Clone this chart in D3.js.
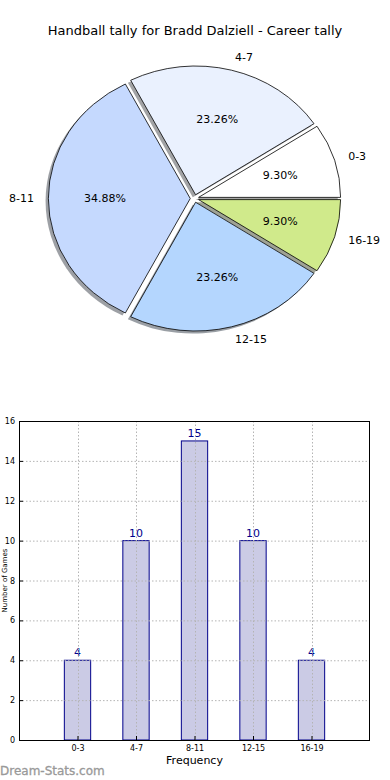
<!DOCTYPE html>
<html><head><meta charset="utf-8">
<script src="https://cdn.jsdelivr.net/npm/d3@7"></script>
<style>
body{margin:0;background:#fff;}
svg{display:block;font-family:"DejaVu Sans",sans-serif;}
</style></head>
<body>
<svg id="chart" width="390" height="780"></svg>
<script>
const categories = ["0-3", "4-7", "8-11", "12-15", "16-19"];
const values = [4, 10, 15, 10, 4];
const yTicks = [0, 2, 4, 6, 8, 10, 12, 14, 16];
const sliceColors = ["#ffffff", "#eaf1fe", "#c5d9fe", "#b4d6fe", "#d0ea8b"];
const titleText = "Handball tally for Bradd Dalziell - Career tally";
const xLabel = "Frequency";
const yLabel = "Number of Games";

const svg = d3.select("#chart");

// ---------- Title ----------
svg.append("text").attr("x", 195).attr("y", 35).attr("text-anchor", "middle")
  .attr("font-size", 13).attr("fill", "#000").text(titleText);

// ---------- Pie (matplotlib style, elliptical) ----------
const cx = 194.5, cy = 198.5, rx = 142, ry = 128.8, explode = 0.03;
const total = d3.sum(values);
const pie = d3.pie().sort(null).startAngle(Math.PI / 2).endAngle(Math.PI / 2 - 2 * Math.PI);
const arcs = pie(values);
const arcGen = d3.arc().innerRadius(0).outerRadius(1);
const midA = d => (d.startAngle + d.endAngle) / 2;
const toPx = (d, dist) => {
  const a = midA(d);
  return [cx + rx * (dist + explode) * Math.sin(a), cy - ry * (dist + explode) * Math.cos(a)];
};
const wedgeTransform = (d, ox, oy) => {
  const a = midA(d);
  return `translate(${cx + ox},${cy + oy}) scale(${rx},${ry}) translate(${explode * Math.sin(a)},${-explode * Math.cos(a)})`;
};
const pieG = svg.append("g");
// shadows
pieG.selectAll("path.shadow").data(arcs).join("path")
  .attr("class", "shadow")
  .attr("d", arcGen)
  .attr("transform", d => wedgeTransform(d, -2.8, 2.6))
  .attr("fill", (d, i) => { const c = d3.rgb(sliceColors[i]); return d3.rgb(c.r * 0.3, c.g * 0.3, c.b * 0.3); })
  .attr("fill-opacity", 0.5);
// wedges
pieG.selectAll("path.wedge").data(arcs).join("path")
  .attr("class", "wedge")
  .attr("d", arcGen)
  .attr("transform", d => wedgeTransform(d, 0, 0))
  .attr("fill", (d, i) => sliceColors[i])
  .attr("stroke", "#000").attr("stroke-width", 0.8)
  .attr("vector-effect", "non-scaling-stroke");
// pct labels
pieG.selectAll("text.pct").data(arcs).join("text")
  .attr("class", "pct")
  .attr("x", d => toPx(d, 0.6)[0]).attr("y", d => toPx(d, 0.6)[1])
  .attr("text-anchor", "middle").attr("dominant-baseline", "central")
  .attr("font-size", 11).attr("fill", "#000")
  .text(d => (d.value / total * 100).toFixed(2) + "%");
// category labels
pieG.selectAll("text.cat").data(arcs).join("text")
  .attr("class", "cat")
  .attr("x", d => toPx(d, 1.1)[0]).attr("y", d => toPx(d, 1.1)[1])
  .attr("text-anchor", d => Math.sin(midA(d)) > 0 ? "start" : "end")
  .attr("dominant-baseline", "central")
  .attr("font-size", 11).attr("fill", "#000")
  .text((d, i) => categories[i]);

// ---------- Bar chart ----------
const L = 19, R = 370, T = 421, B = 740;
const x = d3.scaleLinear().domain([-1, categories.length]).range([L, R]);
const y = d3.scaleLinear().domain([0, 16]).range([B, T]);
const barW = 0.45;
const barG = svg.append("g");
barG.selectAll("rect.bar").data(values).join("rect")
  .attr("class", "bar")
  .attr("x", (v, i) => x(i - barW / 2)).attr("width", x(barW) - x(0))
  .attr("y", v => y(v)).attr("height", v => y(0) - y(v))
  .attr("fill", "#cbcbe5").attr("stroke", "#00008b").attr("stroke-width", 1);
// grid
const gridG = svg.append("g").attr("stroke", "#b4b4b4").attr("stroke-width", 1).attr("stroke-dasharray", "1.5,2");
gridG.selectAll("line.h").data(yTicks.slice(1, -1)).join("line")
  .attr("x1", L).attr("x2", R).attr("y1", d => y(d) + 0.5).attr("y2", d => y(d) + 0.5);
gridG.selectAll("line.v").data(categories).join("line")
  .attr("x1", (d, i) => Math.round(x(i)) + 0.5).attr("x2", (d, i) => Math.round(x(i)) + 0.5)
  .attr("y1", T).attr("y2", B);
// axes
const yAxis = d3.axisLeft(y).tickValues(yTicks).tickSize(-4).tickPadding(4);
const yG = svg.append("g").attr("transform", `translate(${L},0)`).call(yAxis);
const xAxis = d3.axisBottom(x).tickValues(d3.range(categories.length)).tickFormat(i => categories[i]).tickSize(-4).tickPadding(5);
const xG = svg.append("g").attr("transform", `translate(0,${B})`).call(xAxis);
[yG, xG].forEach(g => {
  g.select(".domain").remove();
  g.selectAll("text").attr("font-size", 8).attr("font-family", "DejaVu Sans, sans-serif").attr("fill", "#000");
  g.selectAll("line").attr("stroke", "#000");
});
// frame
svg.append("rect").attr("x", L + 0.5).attr("y", T + 0.5).attr("width", R - L - 1).attr("height", B - T)
  .attr("fill", "none").attr("stroke", "#000").attr("stroke-width", 1);
// value labels
barG.selectAll("text.val").data(values).join("text")
  .attr("class", "val")
  .attr("x", (v, i) => x(i)).attr("y", v => y(v) - 4)
  .attr("text-anchor", "middle").attr("font-size", 11).attr("fill", "#00008b")
  .text(v => v);
// axis labels
svg.append("text").attr("x", (L + R) / 2).attr("y", 764).attr("text-anchor", "middle")
  .attr("font-size", 11).attr("fill", "#000").text(xLabel);
svg.append("text").attr("transform", `translate(6.5,${(T + B) / 2}) rotate(-90)`)
  .attr("text-anchor", "middle").attr("font-size", 7).attr("fill", "#000").text(yLabel);

// watermark
svg.append("text").attr("x", 0).attr("y", 775).attr("font-size", 12)
  .attr("fill", "#999").attr("stroke", "#999").attr("stroke-width", 0.3).text("Dream-Stats.com");
</script>
</body></html>
